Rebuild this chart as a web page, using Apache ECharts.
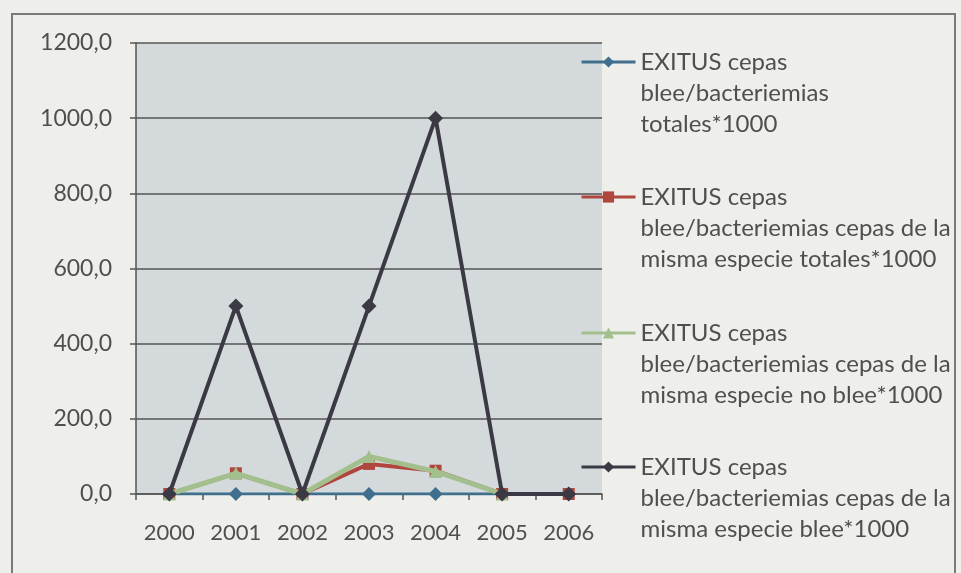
<!DOCTYPE html>
<html>
<head>
<meta charset="utf-8">
<script src="https://cdn.jsdelivr.net/npm/echarts@6/dist/echarts.min.js"></script>
<style>
html,body{margin:0;padding:0;background:#eeeeea;}
#c{width:961px;height:573px;}
</style>
</head>
<body>
<div id="c"></div>
<script>
const years = ['2000','2001','2002','2003','2004','2005','2006'];
const seriesNames = [
  'EXITUS cepas\nblee/bacteriemias\ntotales*1000',
  'EXITUS cepas\nblee/bacteriemias cepas de la\nmisma especie totales*1000',
  'EXITUS cepas\nblee/bacteriemias cepas de la\nmisma especie no blee*1000',
  'EXITUS cepas\nblee/bacteriemias cepas de la\nmisma especie blee*1000'
];
const totales = [0, 0, 0, 0, 0, 0, 0];
const especieTotales = [0, 55, 0, 80, 62, 0, 0];
const especieNoBlee = [0, 55, 0, 100, 60, 0, null];
const especieBlee = [0, 500, 0, 500, 1000, 0, 0];
const yTicks = [0, 200, 400, 600, 800, 1000, 1200];

const chart = echarts.init(document.getElementById('c'));
const font = 'Lato';
const legendIconCenters = [62, 197, 333, 467];
const legends = seriesNames.map((n, i) => ({
  orient: 'vertical', left: 580, bottom: 573 - (legendIconCenters[i] + 77.5),
  padding: 0, itemWidth: 54, itemHeight: 14,
  data: [n],
  formatter: s => '\n\n' + s,
  lineStyle: {width: 3},
  textStyle: {color: '#4f4f4f', fontFamily: font, fontSize: 24, lineHeight: 31}
}));
chart.setOption({
  backgroundColor: '#eeeeea',
  animation: false,
  graphic: [{
    type: 'rect', shape: {x: 12, y: 14, width: 943, height: 580},
    style: {fill: 'none', stroke: '#7a7a7a', lineWidth: 2}, silent: true, z: -10
  }],
  grid: {left: 136, right: 359, top: 43, bottom: 79, show: true,
    backgroundColor: '#d4dadb', borderWidth: 0},
  xAxis: {
    type: 'category', data: years, boundaryGap: true,
    axisLine: {lineStyle: {color: '#555', width: 1.5}},
    axisTick: {show: true, length: 6, inside: false, interval: 0, lineStyle: {color: '#555', width: 1.5}},
    axisLabel: {color: '#4f4f4f', fontFamily: font, fontSize: 22, margin: 28, interval: 0}
  },
  yAxis: {
    type: 'value', min: yTicks[0], max: yTicks[yTicks.length - 1], interval: 200,
    axisLine: {show: true, lineStyle: {color: '#555', width: 1.5}},
    axisTick: {show: true, length: 6, lineStyle: {color: '#555', width: 1.5}},
    splitLine: {show: true, lineStyle: {color: '#555', width: 1.5}},
    axisLabel: {color: '#4f4f4f', fontFamily: font, fontSize: 23, margin: 24,
      formatter: v => v.toFixed(1).replace('.', ',')}
  },
  legend: legends,
  series: [
    {name: seriesNames[0], type: 'line', data: totales, symbol: 'diamond', symbolSize: 14,
      itemStyle: {color: '#3f6f8d'}, lineStyle: {width: 3, color: '#3f6f8d'}, z: 2},
    {name: seriesNames[1], type: 'line', data: especieTotales, symbol: 'rect', symbolSize: 12,
      itemStyle: {color: '#b0473f'}, lineStyle: {width: 4, color: '#b0473f'}, z: 3},
    {name: seriesNames[2], type: 'line', data: especieNoBlee, symbol: 'triangle', symbolSize: 13,
      itemStyle: {color: '#a3bf8e'}, lineStyle: {width: 5, color: '#a3bf8e'}, z: 4},
    {name: seriesNames[3], type: 'line', data: especieBlee, symbol: 'diamond', symbolSize: 15,
      itemStyle: {color: '#3b3a44'}, lineStyle: {width: 4, color: '#3b3a44'}, z: 5}
  ]
});
</script>
</body>
</html>
